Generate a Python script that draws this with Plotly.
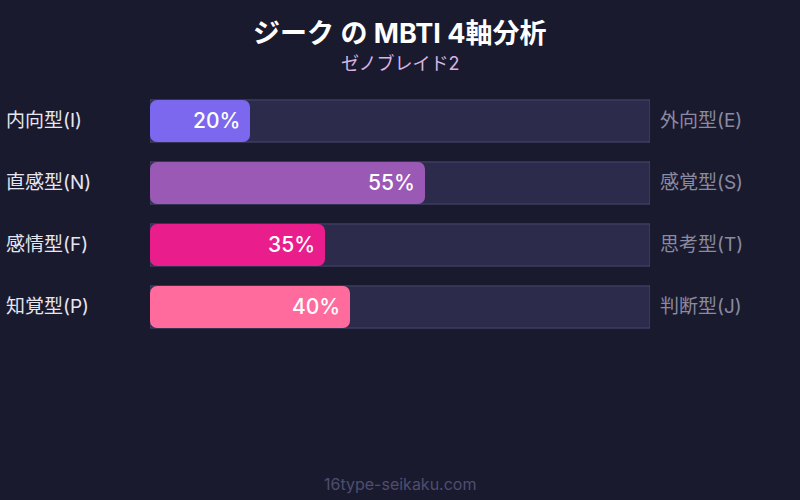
import plotly.graph_objects as go

# MBTI axis data
left_labels = ["内向型(I)", "直感型(N)", "感情型(F)", "知覚型(P)"]
right_labels = ["外向型(E)", "感覚型(S)", "思考型(T)", "判断型(J)"]
values = [20, 55, 35, 40]
bar_colors = ["#7b68ee", "#9b59b6", "#e91e8c", "#ff6b9d"]

FONT = "Inter, Noto Sans CJK JP, sans-serif"
rows = list(range(len(values)))

fig = go.Figure()

# background tracks (full 100%)
fig.add_trace(go.Bar(
    x=[100] * len(values),
    y=rows,
    orientation="h",
    width=0.68,
    marker=dict(color="#2d2b4b", line=dict(color="#4a4870", width=1), cornerradius=0),
    hoverinfo="skip",
    showlegend=False,
))

# value bars
fig.add_trace(go.Bar(
    x=values,
    y=rows,
    orientation="h",
    width=0.68,
    base=0,
    marker=dict(color=bar_colors, line=dict(width=0), cornerradius="18%"),
    showlegend=False,
))

annotations = []
for i, (lt, rt, v) in enumerate(zip(left_labels, right_labels, values)):
    annotations.append(dict(
        x=-0.292, xref="paper", y=i, yref="y", text=lt, showarrow=False,
        xanchor="left", yshift=1,
        font=dict(family=FONT, size=19, color="#e6e6f0"),
    ))
    annotations.append(dict(
        x=1.016, xref="paper", y=i, yref="y", text=rt, showarrow=False,
        xanchor="left", yshift=1,
        font=dict(family=FONT, size=19, color="#8a8aa0"),
    ))
    # value label at the end of each bar
    annotations.append(dict(
        x=v, xref="x", y=i, yref="y", text=f"{v}%", showarrow=False,
        xanchor="right", xshift=-8, yshift=1,
        font=dict(family=FONT, size=21, color="white", weight=500),
    ))

# title, subtitle, footer (plot area spans 90..338 px vertically)
annotations.append(dict(
    x=0.5, xref="paper", y=(338 - 33) / 248, yref="paper",
    text="<b>ジーク の MBTI 4軸分析</b>", showarrow=False, yanchor="middle",
    font=dict(family=FONT, size=27, color="white"),
))
annotations.append(dict(
    x=0.5, xref="paper", y=(338 - 63) / 248, yref="paper",
    text="ゼノブレイド2", showarrow=False, yanchor="middle",
    font=dict(family=FONT, size=18, color="#d8b4e2"),
))
annotations.append(dict(
    x=0.5, xref="paper", y=(338 - 484) / 248, yref="paper",
    text="16type-seikaku.com", showarrow=False, yanchor="middle",
    font=dict(family=FONT, size=16, color="#4e4e6e"),
))

fig.update_layout(
    width=800,
    height=500,
    barmode="overlay",
    paper_bgcolor="#1a1a2e",
    plot_bgcolor="#1a1a2e",
    margin=dict(l=150, r=150, t=90, b=162),
    xaxis=dict(range=[0, 100], visible=False, fixedrange=True),
    yaxis=dict(range=[3.5, -0.5], visible=False, fixedrange=True),
    annotations=annotations,
    font=dict(family=FONT),
)

fig.write_html("out.html", config={"displayModeBar": False},
               post_script="document.body.style.margin='0';")
